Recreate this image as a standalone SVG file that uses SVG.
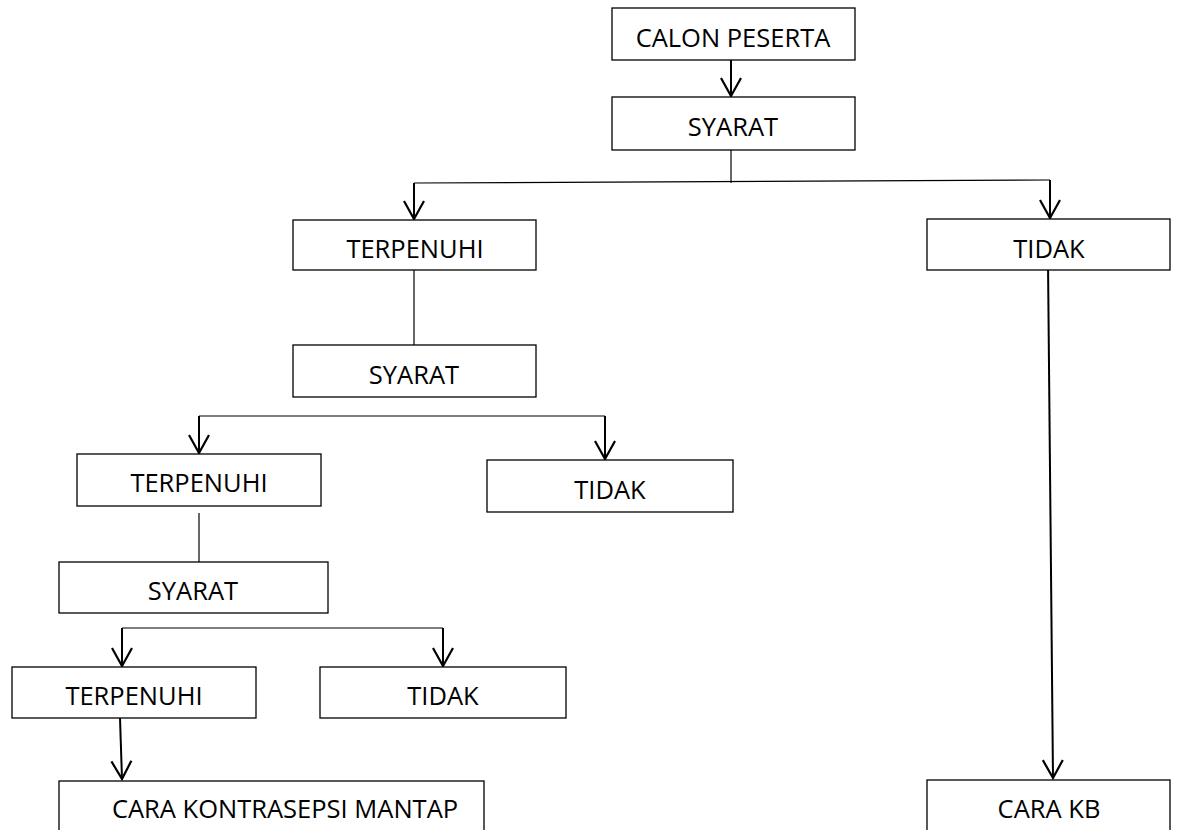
<svg xmlns="http://www.w3.org/2000/svg" width="1177" height="830" viewBox="0 0 1177 830">
<style>
.box{fill:#fff;stroke:#000;stroke-width:1.3}
.lbl{font-family:"Open Sans","Liberation Sans",sans-serif;font-size:25.5px;fill:#000;text-anchor:middle}
.thin{stroke:#000;stroke-width:1.2;fill:none}
.arr{stroke:#000;stroke-width:2;fill:none;marker-end:url(#v)}
</style>
<defs>
<marker id="v" markerUnits="userSpaceOnUse" markerWidth="22" markerHeight="22" viewBox="-20 -11 22 22" refX="0" refY="0" orient="auto" overflow="visible">
<path d="M-18,-10 L0,0 L-18,10" fill="none" stroke="#000" stroke-width="2.2"/>
</marker>
</defs>
<rect width="1177" height="830" fill="#fff"/>
<g id="connectors">
<line class="arr" x1="731" y1="60" x2="731" y2="96"/>
<line class="thin" x1="731" y1="150" x2="731" y2="183"/>
<line class="thin" x1="414" y1="183" x2="1050" y2="180"/>
<line class="arr" x1="414" y1="183" x2="414" y2="219"/>
<line class="arr" x1="1050" y1="180" x2="1050" y2="218"/>
<line class="thin" x1="414" y1="270" x2="414" y2="345"/>
<line class="thin" x1="199" y1="416" x2="605" y2="416"/>
<line class="arr" x1="199" y1="416" x2="199" y2="453"/>
<line class="arr" x1="605" y1="416" x2="605" y2="459"/>
<line class="thin" x1="199" y1="513" x2="199" y2="563"/>
<line class="thin" x1="122" y1="628" x2="443" y2="628"/>
<line class="arr" x1="122" y1="628" x2="122" y2="666"/>
<line class="arr" x1="443" y1="628" x2="443" y2="666"/>
<line class="arr" x1="120" y1="718" x2="122" y2="779"/>
<line class="arr" x1="1048" y1="262" x2="1053" y2="778"/>
</g>
<g id="calon">
<rect class="box" x="612" y="8" width="243" height="52"/>
<text class="lbl" x="733" y="47">CALON PESERTA</text>
</g>
<g id="syarat1">
<rect class="box" x="612" y="97" width="243" height="53"/>
<text class="lbl" x="733" y="136">SYARAT</text>
</g>
<g id="terpenuhi1">
<rect class="box" x="293" y="220" width="243" height="50"/>
<text class="lbl" x="415" y="258">TERPENUHI</text>
</g>
<g id="tidak1">
<rect class="box" x="927" y="219" width="243" height="51"/>
<text class="lbl" x="1049" y="258">TIDAK</text>
</g>
<g id="syarat2">
<rect class="box" x="293" y="345" width="243" height="52"/>
<text class="lbl" x="414" y="384">SYARAT</text>
</g>
<g id="terpenuhi2">
<rect class="box" x="77" y="454" width="244" height="52"/>
<text class="lbl" x="199" y="492">TERPENUHI</text>
</g>
<g id="tidak2">
<rect class="box" x="487" y="460" width="246" height="52"/>
<text class="lbl" x="610" y="499">TIDAK</text>
</g>
<g id="syarat3">
<rect class="box" x="59" y="562" width="269" height="51"/>
<text class="lbl" x="193" y="600">SYARAT</text>
</g>
<g id="terpenuhi3">
<rect class="box" x="12" y="667" width="244" height="51"/>
<text class="lbl" x="134" y="705">TERPENUHI</text>
</g>
<g id="tidak3">
<rect class="box" x="320" y="667" width="246" height="51"/>
<text class="lbl" x="443" y="705">TIDAK</text>
</g>
<g id="kontap">
<rect class="box" x="59" y="781" width="425" height="60"/>
<text class="lbl" x="285" y="818">CARA KONTRASEPSI MANTAP</text>
</g>
<g id="carakb">
<rect class="box" x="927" y="780" width="243" height="60"/>
<text class="lbl" x="1049" y="818">CARA KB</text>
</g>
</svg>
